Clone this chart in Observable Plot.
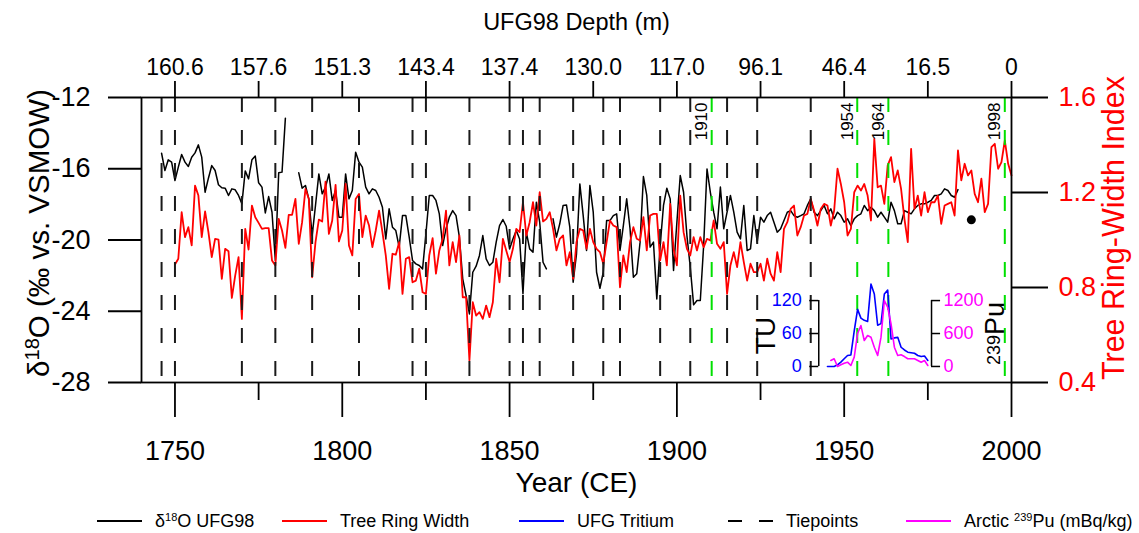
<!DOCTYPE html>
<html><head><meta charset="utf-8">
<script src="https://cdn.jsdelivr.net/npm/d3@7"></script>
<script src="https://cdn.jsdelivr.net/npm/@observablehq/plot@0.6"></script>
<style>
body{margin:0;background:#fff;font-family:"Liberation Sans",Arial,sans-serif;}
#chart{position:relative;width:1139px;height:533px;overflow:hidden;}
#chart svg{display:block;}
#legend{position:absolute;left:0;top:505px;width:1139px;height:32px;font-size:18px;color:#000;}
.li{position:absolute;top:0;height:32px;display:flex;align-items:center;white-space:nowrap;}
.li sup{font-size:11px;line-height:0;vertical-align:6px;}
</style></head><body>
<div id="chart"><div id="legend"></div></div>
<script>
// ---------------- data ----------------
const blackStart = 1746; // δ18O UFG98 (‰ vs. VSMOW), annual, null = gap
const d18O = [
 -15.13,-16.10,-15.50,-15.63,
 -16.66,-15.91,-15.20,-15.63,-15.87,-15.35,-15.11,-14.66,-15.35,-17.32,
 -16.53,-15.82,-16.10,-16.90,-17.07,-17.09,-17.50,-17.13,-17.18,-17.50,
 -17.97,-16.12,-16.57,-15.50,-15.29,-16.79,-17.03,-18.48,-17.56,-18.44,
 -21.15,-16.23,-16.19,-13.16,null,null,null,-16.23,-17.09,-16.94,
 -17.69,-19.75,-18.06,-16.29,-17.41,-17.03,-16.29,-17.78,-17.22,-18.72,
 -18.72,-16.29,-17.69,-17.22,-15.07,-15.63,-15.91,-17.03,-17.41,-17.13,
 -17.22,-17.60,-18.16,-19.94,-18.25,-19.28,-19.47,-20.40,-18.63,-18.63,
 -19.84,-21.15,-21.34,-21.43,-21.62,-19.66,-17.50,-17.50,-17.78,-18.53,
 -20.31,-19.37,-18.72,-18.35,-18.63,-19.84,-22.18,-23.12,-24.15,-21.81,
 -21.47,-20.87,-19.75,-21.06,-21.43,-21.25,-20.12,-19.19,-18.85,-19.23,
 -20.50,-19.94,-19.47,-19.94,-23.02,-19.56,-20.50,-20.68,-17.88,-19.00,
 -21.25,-21.62,null,-18.81,-19.84,-19.09,-18.06,-18.03,-19.28,-22.37,
 -20.78,-16.85,-18.63,-20.59,-16.94,-18.44,-21.81,-22.71,-21.81,-18.91,
 -18.91,-18.63,-18.53,-20.59,-19.19,-17.69,-19.37,-22.09,-21.90,-20.12,
 -16.44,-17.50,-20.40,-20.12,-23.31,-20.31,-18.06,-17.09,-17.69,-21.71,
 -19.00,-16.38,-17.32,-19.75,-21.53,-23.64,-23.40,-23.40,-20.31,-16.01,
 -17.32,-18.44,-19.37,-17.03,-19.37,-18.44,-17.50,-18.44,-19.56,-19.94,
 -18.06,-20.59,-20.50,-18.63,-20.12,-18.72,-19.00,-18.63,-18.44,-19.00,
 -19.56,-19.37,-18.91,-18.44,-18.35,-18.63,-18.72,-18.63,-18.53,-18.06,
 -17.69,-18.44,-18.63,-18.35,-18.06,-18.53,-18.25,-18.81,-18.44,-18.63,
 -19.00,-18.81,-19.19,-18.81,-18.63,-18.53,-18.06,-18.35,-18.16,-18.35,
 -18.72,-18.44,-18.72,-19.00,-17.88,-18.35,-19.09,-19.09,-18.35,-18.44,
 -18.53,-18.25,-18.06,-17.97,-17.97,-17.88,-17.78,-17.50,-17.50,-17.41,
 -17.13,-17.22,-17.50,-17.60,-17.17
];
const trwStart = 1750; // Tree ring-width index, annual
const trw = [
 0.897,0.921,1.117,1.012,1.054,0.977,1.229,1.187,1.012,1.120,
 1.033,0.928,1.005,1.002,0.836,0.963,0.953,0.756,0.850,0.928,
 0.668,1.047,0.960,1.145,1.096,1.072,1.047,1.050,1.050,0.914,
 0.893,1.089,1.040,0.967,1.106,1.106,1.173,0.984,1.075,1.215,
 1.173,0.843,0.991,1.086,1.078,1.246,1.026,1.082,1.232,0.994,
 1.040,1.236,0.977,0.935,1.173,1.194,1.012,1.103,1.061,0.970,
 1.040,1.124,1.033,0.935,0.794,0.942,0.938,0.991,0.773,0.921,
 0.928,0.822,0.829,0.879,0.780,0.773,0.935,1.008,0.858,0.956,
 1.005,1.124,0.893,0.991,0.907,1.019,0.759,0.759,0.493,0.738,
 0.682,0.696,0.668,0.724,0.675,0.738,0.921,0.822,1.005,0.956,
 0.907,0.963,1.047,1.033,1.159,1.019,1.075,1.159,1.061,1.201,
 1.078,1.089,1.117,1.047,0.956,1.005,1.019,0.893,0.949,0.836,
 0.991,1.047,1.040,0.963,1.047,0.991,0.963,0.949,0.900,0.991,
 1.082,1.061,1.054,0.801,0.935,0.865,0.991,1.054,1.005,0.998,
 1.096,0.956,1.103,1.110,1.110,0.914,0.991,0.893,1.152,0.963,
 0.893,1.187,1.033,0.963,0.935,1.012,0.956,1.012,0.970,1.005,
 0.998,1.082,0.984,0.963,0.991,0.773,0.893,0.949,0.886,0.991,
 0.907,0.829,0.900,0.865,0.865,0.900,0.829,0.921,0.858,0.829,
 0.949,0.865,1.047,1.075,1.131,1.145,1.019,1.054,1.103,1.110,
 1.173,1.124,1.061,1.131,1.152,1.145,1.061,1.124,1.300,1.236,
 1.159,1.019,1.047,1.201,1.229,1.208,1.236,1.187,1.082,1.426,
 1.222,1.229,1.152,1.314,1.349,1.244,1.293,1.215,1.089,0.991,
 1.384,1.131,1.187,1.103,1.201,1.117,1.159,1.159,1.187,1.068,
 1.145,1.152,1.159,1.103,1.377,1.251,1.321,1.272,1.293,1.194,
 1.159,1.258,1.117,1.152,1.391,1.405,1.300,1.328,1.419,1.321,
 1.272
];
const tuStart = 1945; // UFG tritium (TU)
const tritium = [0,0,0,3,8,14,20,21,65,104,88,84,82,150,132,75,78,132,139,50,52,53,35,30,26,25,24,20,18,19,11];
const puStart = 1946; // Arctic 239Pu (mBq/kg)
const pu = [109,140,0,30,60,78,18,170,600,745,473,564,533,350,200,533,1200,1078,776,351,200,212,180,140,140,140,110,78,109,18];
const tiepoints = [1746,1750,1770,1780,1791,1805,1821,1825,1838,1850,1854,1859,1869,1878,1883,1895,1904,1915,1924,1940];
const markerLabels = ["1910","1954","1964","1998"];
const markerYears = [1910.4,1953.9,1963.2,1998];
const depthYears = [1750,1775,1800,1825,1850,1875,1900,1925,1950,1975,2000];
const depthLabels = ["160.6","157.6","151.3","143.4","137.4","130.0","117.0","96.1","46.4","16.5","0"];
const yearTicks = [1750,1800,1850,1900,1950,2000];
const minorYearTicks = [1775,1825,1875,1925,1975];
const d18OTicks = [-28,-24,-20,-16,-12];
const trwTicks = [0.4,0.8,1.2,1.6];
const tuTicks = [0,60,120];
const puTicks = [0,600,1200];
const singlePoint = [{year:1988, v:-18.87}];

// ---------------- layout / scale helpers ----------------
const d18ODomain = [-28,-12], trwDomain = [0.4,1.6];
const insetBottomD = -27.1, insetTopD = -23.4;      // inset vertical extent (in δ units)
const insetLeftYear = 1942.4, insetRightYear = 1976.1, insetTick = 2.7;
const trwToD = v => d18ODomain[0] + (v-trwDomain[0])/(trwDomain[1]-trwDomain[0])*(d18ODomain[1]-d18ODomain[0]);
const dToTrw = d => trwDomain[0] + (d-d18ODomain[0])/(d18ODomain[1]-d18ODomain[0])*(trwDomain[1]-trwDomain[0]);
const tuToD = t => insetBottomD + t/tuTicks[2]*(insetTopD-insetBottomD);
const puToD = p => insetBottomD + p/puTicks[2]*(insetTopD-insetBottomD);

const blackRows = d18O.map((v,i)=>({year: blackStart+i, v}));
const redRows = trw.map((v,i)=>({year: trwStart+i, v}));
const tuRows = tritium.map((v,i)=>({year: tuStart+i, v}));
const puRows = pu.map((v,i)=>({year: puStart+i, v}));

const leftTitle = "δ18O (‰ vs. VSMOW)";
const rightTitle = "Tree Ring-Width Index";
const FW = 1.8;

const svg = Plot.plot({
  width: 1139, height: 505,
  marginLeft: 141, marginRight: 128, marginTop: 97, marginBottom: 123,
  x: {domain: [1740, 2000], label: null},
  y: {domain: d18ODomain, label: null},
  style: {fontFamily: "'Liberation Sans', Arial, sans-serif", fontSize: "27px", background: "white", color: "black", overflow: "visible"},
  marks: [
    Plot.line(blackRows, {x: "year", y: "v", stroke: "black", strokeWidth: 1.5}),
    Plot.line(redRows, {x: "year", y: d => trwToD(d.v), stroke: "#ff0000", strokeWidth: 1.8}),
    Plot.ruleX(tiepoints, {stroke: "#1a1a1a", strokeWidth: 2, strokeDasharray: "15,18"}),
    Plot.ruleX(markerYears, {stroke: "#00e000", strokeWidth: 2, strokeDasharray: "15,18"}),
    Plot.text(markerLabels, {x: (d,i) => markerYears[i], y: d18ODomain[1], text: d => d, rotate: -90, textAnchor: "end", lineAnchor: "middle", dx: -10, dy: 5, fontSize: 17}),
    Plot.dot(singlePoint, {x: "year", y: "v", r: 4.5, fill: "black", stroke: null}),
    // inset
    Plot.line(tuRows, {x: "year", y: d => tuToD(d.v), stroke: "#0000ff", strokeWidth: 1.6}),
    Plot.line(puRows, {x: "year", y: d => puToD(d.v), stroke: "#ff00ff", strokeWidth: 1.6}),
    Plot.ruleX([insetLeftYear, insetRightYear], {y1: tuToD(0), y2: tuToD(tuTicks[2]), stroke: "black", strokeWidth: 1.5}),
    Plot.ruleY(tuTicks, {y: d => tuToD(d), x1: insetLeftYear - insetTick, x2: insetLeftYear, stroke: "black", strokeWidth: 1.5}),
    Plot.ruleY(puTicks, {y: d => puToD(d), x1: insetRightYear, x2: insetRightYear + insetTick, stroke: "black", strokeWidth: 1.5}),
    Plot.text(tuTicks, {x: insetLeftYear - insetTick, y: d => tuToD(d), text: d => String(d), textAnchor: "end", dx: -8, fill: "#0000ff", fontSize: 18}),
    Plot.text(puTicks, {x: insetRightYear + insetTick, y: d => puToD(d), text: d => String(d), textAnchor: "start", dx: 3, fill: "#ff00ff", fontSize: 18}),
    Plot.text(["TU"], {x: insetLeftYear, y: tuToD(60), text: d => d, rotate: -90, textAnchor: "middle", lineAnchor: "middle", dx: -53, dy: 2, fontSize: 28}),
    Plot.text(["239Pu"], {x: insetRightYear, y: puToD(600), text: d => d, rotate: -90, textAnchor: "middle", lineAnchor: "middle", dx: 63.5, fontSize: 27}),
    // frame & axes
    Plot.frame({stroke: "black", strokeWidth: FW}),
    Plot.axisY({ticks: d18OTicks, anchor: "left", tickSize: 33, tickPadding: 18, tickFormat: d => String(d), fontSize: 27, strokeWidth: FW, label: null}),
    Plot.axisY({ticks: trwTicks.map(trwToD), anchor: "right", tickSize: 36, tickPadding: 11, tickFormat: d => dToTrw(d).toFixed(1), stroke: "black", fill: "#ff0000", fontSize: 27, strokeWidth: FW, label: null}),
    Plot.axisX({ticks: depthYears, anchor: "top", tickSize: 17, tickPadding: 6, tickFormat: d => depthLabels[depthYears.indexOf(d)], fontSize: 23, strokeWidth: FW, label: null}),
    Plot.axisX({ticks: yearTicks, anchor: "bottom", tickSize: 35, tickPadding: 23, tickFormat: d => String(d), fontSize: 27, strokeWidth: FW, label: null}),
    Plot.axisX({ticks: minorYearTicks, anchor: "bottom", tickSize: 18, tickFormat: () => "", strokeWidth: FW, label: null}),
    // titles
    Plot.text(["UFG98 Depth (m)"], {frameAnchor: "top", text: d => d, textAnchor: "middle", lineAnchor: "middle", dy: -75, fontSize: 23.5}),
    Plot.text(["Year (CE)"], {frameAnchor: "bottom", text: d => d, textAnchor: "middle", lineAnchor: "middle", dy: 101, fontSize: 28}),
    Plot.text([leftTitle], {frameAnchor: "left", text: d => d, rotate: -90, textAnchor: "middle", lineAnchor: "middle", dx: -102, dy: -7, fontSize: 29.5}),
    Plot.text([rightTitle], {frameAnchor: "right", text: d => d, rotate: -90, textAnchor: "middle", lineAnchor: "middle", dx: 103, dy: -12, fontSize: 30.5, fill: "#ff0000"})
  ]
});

// superscripts inside SVG texts
d3.select(svg).selectAll("text").each(function() {
  const t = d3.select(this);
  if (this.textContent === leftTitle) {
    t.text(null);
    t.append("tspan").text("δ");
    t.append("tspan").attr("font-size", "20px").attr("dy", "-10").text("18");
    t.append("tspan").attr("dy", "10").text("O (‰ vs. VSMOW)");
  } else if (this.textContent === "239Pu") {
    t.text(null);
    t.append("tspan").attr("font-size", "18px").attr("dy", "-4").text("239");
    t.append("tspan").attr("font-size", "27px").attr("dy", "4").text("Pu");
  }
});

const chart = document.getElementById("chart");
chart.insertBefore(svg, chart.firstChild);

// legend
const legendItems = [
  {left: 97, color: "#000", dash: null, html: "δ<sup>18</sup>O UFG98"},
  {left: 282, color: "#ff0000", dash: null, html: "Tree Ring Width"},
  {left: 519, color: "#0000ff", dash: null, html: "UFG Tritium"},
  {left: 728, color: "#000", dash: "14,17", html: "Tiepoints"},
  {left: 906, color: "#ff00ff", dash: null, html: "Arctic <sup>239</sup>Pu (mBq/kg)"}
];
const legend = document.getElementById("legend");
legendItems.forEach(it => {
  const div = document.createElement("div");
  div.className = "li";
  div.style.left = it.left + "px";
  div.innerHTML = `<svg width="46" height="6" style="margin-right:12px"><line x1="0" y1="3" x2="45" y2="3" stroke="${it.color}" stroke-width="2"${it.dash ? ` stroke-dasharray="${it.dash}"` : ""}/></svg><span>${it.html}</span>`;
  legend.appendChild(div);
});
</script>
</body></html>
